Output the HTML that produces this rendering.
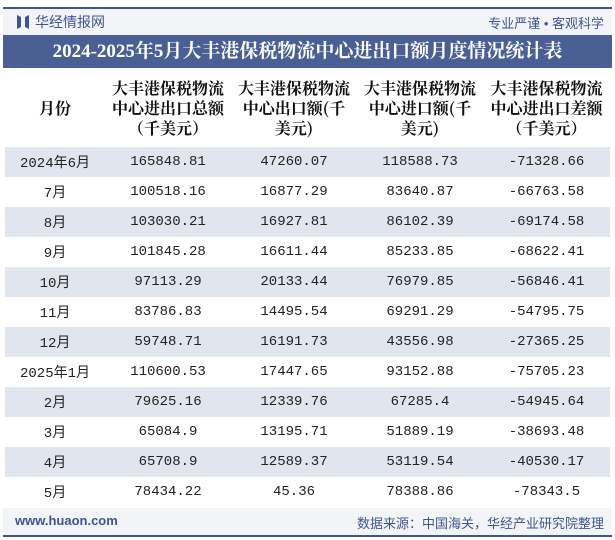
<!DOCTYPE html>
<html><head><meta charset="utf-8"><style>
*{margin:0;padding:0;box-sizing:border-box}
body{width:615px;height:540px;background:#fff;position:relative;overflow:hidden;font-family:"Liberation Sans","Noto Sans CJK SC",sans-serif}
.topline{position:absolute;left:3px;top:7px;width:609px;height:2px;background:#3f5590}
.head{position:absolute;left:3px;top:9px;width:609px;height:26px;background:#f2f4f8}
.logo{position:absolute;left:14px;top:6px;width:12px;height:14px}
.brand{position:absolute;left:32px;top:3px;font-size:14px;color:#3f5590}
.slogan{position:absolute;right:8px;top:4px;font-size:13px;color:#3f5590}
.title{position:absolute;left:3px;top:35px;width:609px;height:33px;background:#4a5f94;color:#fff;font-family:"Liberation Serif","Noto Serif CJK SC",serif;font-weight:bold;font-size:19px;text-align:center;line-height:33px}
table{position:absolute;left:5px;top:68px;width:605px;border-collapse:collapse}
th{font-family:"Noto Serif CJK SC",serif;font-size:16px;line-height:20px;font-weight:bold;color:#111;height:79px;vertical-align:middle}
td{height:30px;text-align:center;font-family:"Liberation Mono","Noto Sans CJK SC",monospace;font-size:14px;color:#222;padding:0}
tr.s td{background:#e1e5ee}
.foot{position:absolute;left:3px;top:508px;width:609px;height:27px;background:#f2f4f8}
.fl{position:absolute;left:12px;top:5px;font-size:13px;color:#3f5590;font-weight:bold}
.fr{position:absolute;right:8px;top:5px;font-size:13px;color:#3f5590}
.botline{position:absolute;left:3px;top:535px;width:609px;height:2px;background:#3f5590}
</style></head><body>
<div class="topline"></div>
<div class="head">
<svg class="logo" viewBox="0 0 12 14"><polygon points="0,0 4,2 4,12 0,14" fill="#3f5590"/><polygon points="12,0 8,2 8,12 12,14" fill="#3f5590"/></svg>
<div class="brand">华经情报网</div>
<div class="slogan">专业严谨 • 客观科学</div>
</div>
<div class="title">2024-2025年5月大丰港保税物流中心进出口额月度情况统计表</div>
<table>
<colgroup><col style="width:100px"><col style="width:126px"><col style="width:126px"><col style="width:126px"><col style="width:127px"></colgroup>
<tr>
<th>月份</th>
<th>大丰港保税物流<br>中心进出口总额<br>（千美元）</th>
<th>大丰港保税物流<br>中心出口额(千<br>美元)</th>
<th>大丰港保税物流<br>中心进口额(千<br>美元)</th>
<th>大丰港保税物流<br>中心进出口差额<br>（千美元）</th>
</tr>
<tbody id="tb"></tbody>
</table>
<div class="foot">
<div class="fl">www.huaon.com</div>
<div class="fr">数据来源：中国海关，华经产业研究院整理</div>
</div>
<div class="botline"></div>
<script>
const months=["2024年6月","7月","8月","9月","10月","11月","12月","2025年1月","2月","3月","4月","5月"];
const total=["165848.81","100518.16","103030.21","101845.28","97113.29","83786.83","59748.71","110600.53","79625.16","65084.9","65708.9","78434.22"];
const exportv=["47260.07","16877.29","16927.81","16611.44","20133.44","14495.54","16191.73","17447.65","12339.76","13195.71","12589.37","45.36"];
const importv=["118588.73","83640.87","86102.39","85233.85","76979.85","69291.29","43556.98","93152.88","67285.4","51889.19","53119.54","78388.86"];
const balance=["-71328.66","-66763.58","-69174.58","-68622.41","-56846.41","-54795.75","-27365.25","-75705.23","-54945.64","-38693.48","-40530.17","-78343.5"];
const tb=document.getElementById('tb');
months.forEach((m,i)=>{
const tr=document.createElement('tr');
if(i%2===0)tr.className='s';


[m,total[i],exportv[i],importv[i],balance[i]].forEach(v=>{
const td=document.createElement('td');
td.textContent=v;


tr.appendChild(td);
});
tb.appendChild(tr);
});
</script>
</body></html>
